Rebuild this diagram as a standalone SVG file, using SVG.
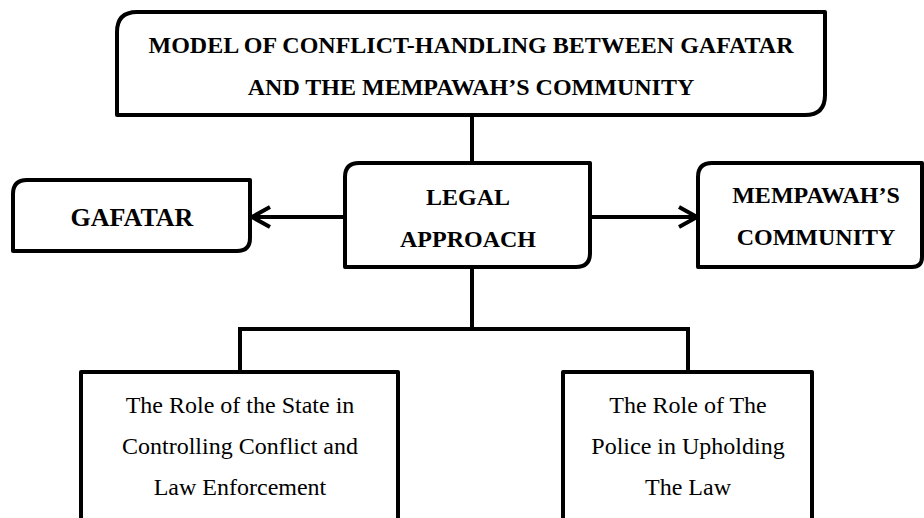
<svg xmlns="http://www.w3.org/2000/svg" width="924" height="518" viewBox="0 0 924 518">
<defs>
<style>
.box{fill:#fff;stroke:#000;stroke-width:4;stroke-linejoin:round}
.line{fill:none;stroke:#000;stroke-width:4}
.b{font-family:"Liberation Serif","Times New Roman",serif;font-weight:bold;font-size:24px;text-anchor:middle;fill:#000}
.r{font-family:"Liberation Serif","Times New Roman",serif;font-size:24px;text-anchor:middle;fill:#000}
</style>
<marker id="open" viewBox="0 0 20 24" refX="19" refY="12" markerWidth="20" markerHeight="24" markerUnits="userSpaceOnUse" orient="auto">
<path d="M1,2 L19,12 L1,22" fill="none" stroke="#000" stroke-width="4" stroke-linejoin="miter"/>
</marker>
</defs>
<rect width="924" height="518" fill="#fff"/>
<g id="connectors">
<line class="line" x1="472" y1="115" x2="472" y2="163"/>
<line class="line" x1="345" y1="217" x2="252" y2="217" marker-end="url(#open)"/>
<line class="line" x1="590" y1="217" x2="697" y2="217" marker-end="url(#open)"/>
<path class="line" d="M472,267 V329 M240,372 V329 H688 V372" stroke-linejoin="miter"/>
</g>
<g id="title">
<path class="box" d="M137,12 H825 V95 Q825,115 805,115 H117 V32 Q117,12 137,12 Z"/>
<text class="b" x="471" y="53">MODEL OF CONFLICT-HANDLING BETWEEN GAFATAR</text>
<text class="b" x="471" y="95">AND THE MEMPAWAH’S COMMUNITY</text>
</g>
<g id="legal">
<path class="box" d="M359,163 H590 V253 Q590,267 576,267 H345 V177 Q345,163 359,163 Z"/>
<text class="b" x="468" y="205">LEGAL</text>
<text class="b" x="468" y="247">APPROACH</text>
</g>
<g id="gafatar">
<path class="box" d="M27,180 H250 V238 Q250,251 237,251 H13 V194 Q13,180 27,180 Z"/>
<text class="b" x="132" y="226" style="font-size:26px">GAFATAR</text>
</g>
<g id="mempawah">
<path class="box" d="M712,163 H922 V257 Q922,267 912,267 H698 V177 Q698,163 712,163 Z"/>
<text class="b" x="816" y="203">MEMPAWAH’S</text>
<text class="b" x="816" y="245">COMMUNITY</text>
</g>
<g id="state">
<path class="box" d="M81,530 V372 H398 V530"/>
<text class="r" x="240" y="413">The Role of the State in</text>
<text class="r" x="240" y="454">Controlling Conflict and</text>
<text class="r" x="240" y="495">Law Enforcement</text>
</g>
<g id="police">
<path class="box" d="M563,530 V372 H812 V530"/>
<text class="r" x="688" y="413">The Role of The</text>
<text class="r" x="688" y="454">Police in Upholding</text>
<text class="r" x="688" y="495">The Law</text>
</g>
</svg>
